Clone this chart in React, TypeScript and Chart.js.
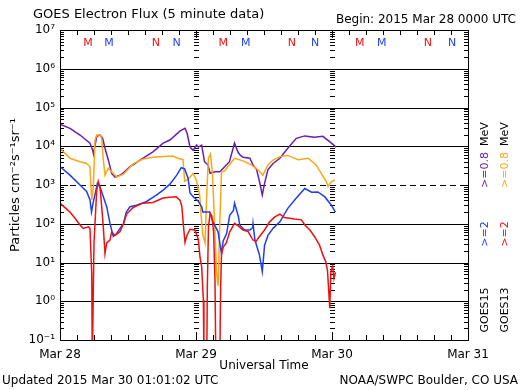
import React, { useEffect, useRef } from "react";
import { Chart, registerables } from "chart.js";

Chart.register(...registerables);

// ---------- axis definitions ----------
const xTickHours = [0, 24, 48, 72];
const xTickLabels = ["Mar 28", "Mar 29", "Mar 30", "Mar 31"];
const dayMarkHours = [24, 48];
const yTickValues = [1e-1, 1e0, 1e1, 1e2, 1e3, 1e4, 1e5, 1e6, 1e7];
const yTickLabels = ["10⁻¹", "10⁰", "10¹", "10²", "10³", "10⁴", "10⁵", "10⁶", "10⁷"];
const dashedLevel = 1e3;

// ---------- GOES15 >=0.8 MeV (purple) ----------
const g15LowHours = [0, 1.76, 3.53, 5.29, 5.77, 5.9, 6.48, 7.06, 7.53, 7.94, 8.52, 9.12, 9.7, 10.6, 11.1, 12.35, 12.9, 14.6, 16.4, 18.2, 19.4, 21.2, 22.06, 22.46, 22.94, 23.5, 24.12, 24.4, 25.0, 25.5, 26.1, 26.5, 27.35, 28.2, 28.8, 29.9, 30.8, 31.4, 31.8, 32.3, 33.5, 34.06, 34.7, 35.2, 35.7, 36.1, 36.7, 37.6, 38.8, 40.2, 41.7, 43.2, 44.9, 46.4, 47.9, 48.7];
const g15LowFlux = [3.7e4, 2.9e4, 1.95e4, 1.2e4, 7.9e3, 6.3e3, 1.8e4, 1.95e4, 1.6e4, 8.9e3, 4.5e3, 2.0e3, 1.6e3, 1.8e3, 2.0e3, 3.0e3, 3.3e3, 4.9e3, 7.2e3, 1.2e4, 1.45e4, 2.5e4, 2.9e4, 2.1e4, 9.5e3, 7.9e3, 1.07e4, 9.5e3, 1.07e4, 4.0e3, 3.3e3, 2.0e3, 2.2e3, 2.2e3, 2.7e3, 4.0e3, 1.2e4, 7.1e3, 5.9e3, 5.2e3, 4.9e3, 3.3e3, 2.5e3, 1.23e3, 550, 1.1e3, 2.5e3, 3.6e3, 4.9e3, 8.9e3, 1.6e4, 1.85e4, 1.7e4, 1.8e4, 1.2e4, 9.5e3];

// ---------- GOES13 >=0.8 MeV (orange) ----------
const g13LowHours = [0, 1.76, 3.53, 4.7, 5.29, 5.6, 5.88, 6.18, 6.48, 7.06, 7.36, 7.64, 7.94, 8.52, 9.12, 10.0, 11.2, 12.9, 14.7, 16.4, 18.2, 19.9, 20.8, 21.7, 22.0, 22.6, 23.5, 24.05, 24.65, 24.9, 25.2, 25.6, 25.9, 26.2, 26.55, 26.9, 27.2, 27.6, 27.9, 28.2, 28.5, 29.06, 29.65, 30.8, 32.3, 33.75, 34.9, 35.8, 36.7, 37.6, 38.8, 40.2, 42.0, 43.8, 45.2, 46.1, 47.0, 47.3, 47.9, 48.5];
const g13LowFlux = [8.9e3, 4.9e3, 4.0e3, 3.6e3, 3.0e3, 410, 910, 1.45e4, 1.95e4, 1.95e4, 1.6e4, 4.5e3, 1.8e3, 2.7e3, 2.2e3, 1.6e3, 1.9e3, 3.5e3, 4.7e3, 5.2e3, 5.4e3, 5.6e3, 4.9e3, 4.5e3, 1.26e3, 1.4e3, 2.0e3, 1.35e3, 550, 166, 51, 32, 630, 5.0e3, 6.3e3, 2.0e3, 200, 6.3, 2.5, 100, 2.2e3, 2.3e3, 3.0e3, 4.9e3, 4.2e3, 3.3e3, 2.5e3, 1.8e3, 3.3e3, 4.4e3, 5.4e3, 5.8e3, 4.5e3, 4.9e3, 3.3e3, 2.0e3, 1.23e3, 910, 1.23e3, 1.35e3];

// ---------- GOES15 >=2 MeV (blue) ----------
const g15HighHours = [0, 1.76, 3.53, 4.7, 5.29, 5.56, 5.8, 6.6, 7.06, 7.64, 8.24, 8.82, 9.4, 10.0, 10.6, 11.2, 11.7, 12.35, 13.5, 15.2, 17.0, 18.2, 19.4, 20.6, 21.4, 22.0, 22.6, 22.94, 23.5, 24.4, 25.0, 25.2, 25.8, 26.4, 27.0, 27.9, 28.2, 28.5, 28.8, 29.4, 29.95, 30.6, 30.8, 31.5, 31.7, 32.6, 33.5, 34.0, 34.06, 34.4, 35.2, 35.7, 36.1, 36.7, 37.6, 38.8, 40.2, 41.7, 43.2, 44.4, 45.5, 46.7, 47.9, 48.6];
const g15HighFlux = [3.0e3, 1.8e3, 1.0e3, 680, 410, 200, 320, 1.1e3, 890, 500, 275, 102, 47, 56, 76, 100, 200, 275, 300, 370, 550, 740, 1.05e3, 1.8e3, 2.8e3, 2.6e3, 1.5e3, 620, 500, 380, 275, 200, 200, 200, 112, 62, 32, 17, 36, 56, 166, 220, 340, 150, 93, 69, 69, 79, 100, 38, 15.5, 5.8, 28, 50, 76, 112, 250, 460, 810, 650, 660, 500, 300, 200];

// ---------- GOES13 >=2 MeV (red) ----------
const g13HighHours = [0, 1.76, 2.65, 3.53, 4.1, 5.0, 5.29, 5.6, 5.7, 5.82, 6.0, 6.48, 6.76, 7.06, 7.36, 7.64, 7.94, 8.24, 8.82, 9.12, 9.7, 10.6, 11.2, 11.76, 12.9, 14.6, 16.4, 18.2, 19.4, 20.5, 21.2, 21.5, 21.8, 22.06, 22.4, 22.94, 23.8, 24.4, 24.7, 25.0, 25.3, 25.4, 25.9, 26.0, 26.2, 26.5, 26.8, 27.1, 27.35, 27.5, 28.2, 28.35, 28.5, 28.8, 29.35, 29.95, 30.8, 31.4, 32.3, 33.2, 34.06, 34.6, 35.2, 36.1, 37.0, 37.9, 38.8, 39.6, 41.4, 42.6, 43.2, 44.1, 44.9, 45.8, 46.4, 46.9, 47.2, 47.4, 47.6, 47.8, 48.1, 48.35, 48.6];
const g13HighFlux = [340, 200, 138, 93, 76, 83, 76, 5.2, 0.03, 0.03, 32, 740, 1.23e3, 870, 275, 83, 17, 32, 38, 62, 50, 63, 100, 178, 263, 340, 355, 460, 480, 500, 400, 275, 83, 33, 50, 72, 69, 40, 14, 7.8, 1.07, 0.03, 0.03, 2.4, 83, 186, 158, 63, 3.5, 0.03, 0.03, 2.5, 16, 25, 32, 62, 102, 89, 69, 63, 38, 35, 47, 69, 112, 150, 178, 145, 132, 126, 93, 69, 47, 28, 15.5, 10.5, 6.3, 2.1, 0.66, 5.8, 7.9, 3.9, 5.6];

// ---------- M / N crossing markers ----------
const goes13MHours = [4.94, 28.8, 52.9];
const goes15MHours = [8.65, 32.8, 56.8];
const goes13NHours = [16.9, 40.9, 64.9];
const goes15NHours = [20.6, 45.0, 69.2];

const COL_PURPLE = "#6a1eb0";
const COL_ORANGE = "#f8a818";
const COL_BLUE = "#1f3ff0";
const COL_RED = "#f01010";
const FONT = "'DejaVu Sans', sans-serif";

const pts = (hs: number[], vs: number[]) => hs.map((h, i) => ({ x: h, y: vs[i] }));

const decorPlugin = {
  id: "decor",
  beforeDatasetsDraw(chart: any) {
    const { ctx, chartArea: a, scales } = chart;
    const xs = scales.x;
    const ys = scales.y;
    ctx.save();
    ctx.strokeStyle = "#000";
    ctx.lineWidth = 1;
    for (const v of yTickValues) {
      if (v === yTickValues[0] || v === yTickValues[yTickValues.length - 1]) continue;
      const y = Math.round(ys.getPixelForValue(v)) + 0.5;
      ctx.setLineDash(v === dashedLevel ? [6, 4] : []);
      ctx.beginPath();
      ctx.moveTo(a.left, y);
      ctx.lineTo(a.right, y);
      ctx.stroke();
    }
    ctx.setLineDash([]);
    ctx.beginPath();
    for (let e = -1; e < 7; e++) {
      for (let m = 1; m < 10; m++) {
        const v = m * Math.pow(10, e);
        const y = Math.round(ys.getPixelForValue(v)) + 0.5;
        const len = m === 1 ? 8 : 4;
        ctx.moveTo(a.left, y);
        ctx.lineTo(a.left + len, y);
        ctx.moveTo(a.right, y);
        ctx.lineTo(a.right - len, y);
        for (const h of dayMarkHours) {
          const x = Math.round(xs.getPixelForValue(h));
          ctx.moveTo(x - 2, y);
          ctx.lineTo(x + 3, y);
        }
      }
    }
    for (let h = 3; h < 72; h += 3) {
      const x = Math.round(xs.getPixelForValue(h)) + 0.5;
      const len = h % 24 === 0 ? 8 : 5;
      ctx.moveTo(x, a.top);
      ctx.lineTo(x, a.top + len);
      ctx.moveTo(x, a.bottom);
      ctx.lineTo(x, a.bottom - len);
    }
    ctx.stroke();
    ctx.restore();
  },
  afterDraw(chart: any) {
    const { ctx, chartArea: a, scales } = chart;
    const xs = scales.x;
    ctx.save();
    ctx.strokeStyle = "#000";
    ctx.lineWidth = 1;
    ctx.strokeRect(Math.round(a.left) + 0.5, Math.round(a.top) + 0.5, Math.round(a.right - a.left), Math.round(a.bottom - a.top));

    const txt = (s: string, x: number, y: number, align: CanvasTextAlign, color: string, size: number) => {
      ctx.font = `${size}px ${FONT}`;
      ctx.fillStyle = color;
      ctx.textAlign = align;
      ctx.textBaseline = "middle";
      ctx.fillText(s, x, y);
    };
    txt("GOES Electron Flux (5 minute data)", 33, 15, "left", "#000", 13);
    txt("Begin: 2015 Mar 28 0000 UTC", 516, 20, "right", "#000", 12);
    txt("Updated 2015 Mar 30 01:01:02 UTC", 2, 381, "left", "#000", 12);
    txt("NOAA/SWPC Boulder, CO USA", 518, 381, "right", "#000", 12);

    const mark = (hours: number[], letter: string, color: string) => {
      for (const h of hours) txt(letter, xs.getPixelForValue(h), 43, "center", color, 11);
    };
    mark(goes13MHours, "M", COL_RED);
    mark(goes15MHours, "M", COL_BLUE);
    mark(goes13NHours, "N", COL_RED);
    mark(goes15NHours, "N", COL_BLUE);

    const vtxt = (s: string, x: number, y: number, color: string) => {
      ctx.save();
      ctx.translate(x, y);
      ctx.rotate(-Math.PI / 2);
      ctx.font = `11px ${FONT}`;
      ctx.fillStyle = color;
      ctx.textAlign = "center";
      ctx.textBaseline = "middle";
      ctx.fillText(s, 0, 0);
      ctx.restore();
    };
    vtxt("GOES15", 485, 310, "#000");
    vtxt(">=2", 485, 234, COL_BLUE);
    vtxt(">=0.8", 485, 170, COL_PURPLE);
    vtxt("MeV", 485, 134, "#000");
    vtxt("GOES13", 505, 310, "#000");
    vtxt(">=2", 505, 234, COL_RED);
    vtxt(">=0.8", 505, 170, COL_ORANGE);
    vtxt("MeV", 505, 134, "#000");
    ctx.restore();
  },
};

export default function App() {
  const ref = useRef<HTMLCanvasElement>(null);
  useEffect(() => {
    const lineDs = (label: string, hs: number[], vs: number[], color: string) => ({
      label,
      data: pts(hs, vs),
      borderColor: color,
      backgroundColor: color,
      borderWidth: 1.5,
      pointRadius: 0,
      tension: 0,
    });
    const chart = new Chart(ref.current as HTMLCanvasElement, {
      type: "line",
      data: {
        datasets: [
          lineDs("GOES13 >=2 MeV", g13HighHours, g13HighFlux, COL_RED),
          lineDs("GOES15 >=2 MeV", g15HighHours, g15HighFlux, COL_BLUE),
          lineDs("GOES13 >=0.8 MeV", g13LowHours, g13LowFlux, COL_ORANGE),
          lineDs("GOES15 >=0.8 MeV", g15LowHours, g15LowFlux, COL_PURPLE),
        ],
      },
      options: {
        responsive: false,
        animation: false,
        devicePixelRatio: 1,
        layout: { padding: { left: 0, right: 52, top: 30, bottom: 17 } },
        plugins: { legend: { display: false }, tooltip: { enabled: false } },
        scales: {
          x: {
            type: "linear",
            min: 0,
            max: 72,
            afterBuildTicks: (s: any) => {
              s.ticks = xTickHours.map((v) => ({ value: v }));
            },
            afterFit: (s: any) => {
              s.height = 33;
            },
            ticks: {
              autoSkip: false,
              maxRotation: 0,
              padding: 8,
              color: "#000",
              font: { family: FONT, size: 12 },
              callback: (v: any) => xTickLabels[xTickHours.indexOf(Number(v))] ?? "",
            },
            grid: { display: false, drawTicks: false },
            border: { display: false },
            title: {
              display: true,
              text: "Universal Time",
              color: "#000",
              font: { family: FONT, size: 12 },
              padding: { top: 0, bottom: 0 },
            },
          },
          y: {
            type: "logarithmic",
            min: 1e-1,
            max: 1e7,
            afterBuildTicks: (s: any) => {
              s.ticks = yTickValues.map((v) => ({ value: v }));
            },
            afterFit: (s: any) => {
              s.width = 60;
            },
            ticks: {
              autoSkip: false,
              padding: 5,
              color: "#000",
              font: { family: FONT, size: 12 },
              callback: (v: any) => {
                const i = yTickValues.findIndex((t) => Math.abs(Math.log10(t) - Math.log10(Number(v))) < 1e-6);
                return i >= 0 ? yTickLabels[i] : "";
              },
            },
            grid: { display: false, drawTicks: false },
            border: { display: false },
            title: {
              display: true,
              text: "Particles cm⁻²s⁻¹sr⁻¹",
              color: "#000",
              font: { family: FONT, size: 13 },
              padding: { top: 8, bottom: 0 },
            },
          },
        },
      },
      plugins: [decorPlugin],
    } as any);
    return () => chart.destroy();
  }, []);
  return (
    <div style={{ position: "fixed", left: 0, top: 0, width: 520, height: 390, background: "#fff" }}>
      <canvas ref={ref} width={520} height={390} style={{ display: "block" }} />
    </div>
  );
}
